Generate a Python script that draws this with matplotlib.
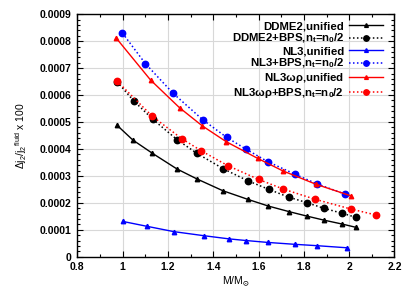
import matplotlib
matplotlib.use("Agg")
import matplotlib.pyplot as plt
from matplotlib.ticker import MultipleLocator, FormatStrFormatter, FuncFormatter

plt.rcParams['font.family'] = ['Liberation Sans', 'DejaVu Sans']
plt.rcParams['font.weight'] = 'bold'
plt.rcParams['mathtext.default'] = 'regular'

# DDME2, unified
ddme2_x = [0.975, 1.045, 1.131, 1.239, 1.327, 1.442, 1.552, 1.643, 1.736, 1.812, 1.887, 1.970, 2.030]
ddme2_y = [4.88, 4.33, 3.84, 3.26, 2.89, 2.45, 2.13, 1.88, 1.67, 1.51, 1.36, 1.21, 1.09]
# DDME2 + BPS
ddme2_bps_x = [0.975, 1.048, 1.133, 1.241, 1.327, 1.445, 1.552, 1.645, 1.733, 1.812, 1.887, 1.970, 2.030]
ddme2_bps_y = [6.50, 5.79, 5.10, 4.34, 3.84, 3.26, 2.82, 2.50, 2.21, 2.01, 1.80, 1.61, 1.46]
# NL3, unified
nl3_x = [1.000, 1.106, 1.226, 1.358, 1.471, 1.545, 1.640, 1.759, 1.856, 1.992]
nl3_y = [1.31, 1.13, 0.93, 0.78, 0.66, 0.60, 0.53, 0.46, 0.41, 0.33]
# NL3 + BPS
nl3_bps_x = [0.999, 1.100, 1.222, 1.354, 1.459, 1.545, 1.640, 1.761, 1.856, 1.982]
nl3_bps_y = [8.30, 7.17, 6.07, 5.08, 4.43, 3.99, 3.53, 3.06, 2.71, 2.32]
# NL3wr, unified
nl3wr_x = [0.972, 1.123, 1.251, 1.351, 1.457, 1.596, 1.706, 1.853, 2.007]
nl3wr_y = [8.11, 6.56, 5.53, 4.86, 4.27, 3.65, 3.19, 2.69, 2.26]
# NL3wr + BPS
nl3wr_bps_x = [0.975, 1.131, 1.261, 1.347, 1.464, 1.600, 1.709, 1.850, 2.007, 2.118]
nl3wr_bps_y = [6.52, 5.21, 4.38, 3.93, 3.38, 2.87, 2.51, 2.13, 1.77, 1.55]

labels = [
    'DDME2,unified',
    'DDME2+BPS,n$_t$=n$_0$/2',
    'NL3,unified',
    'NL3+BPS,n$_t$=n$_0$/2',
    r'NL3$\omega\rho$,unified',
    r'NL3$\omega\rho$+BPS,n$_t$=n$_0$/2',
]

scale = 1e-4

fig = plt.figure(figsize=(4.15, 2.97), dpi=100)
ax = fig.add_axes([0.1865, 0.1357, 0.7641, 0.8162])

tri = dict(marker='^', markersize=3.2, lw=1.0)
dot = dict(marker='o', markersize=4.6, lw=1.1, ls=(0, (1, 1.6)))

ax.plot(ddme2_x, [v * scale for v in ddme2_y], color='black', label=labels[0], **tri)
ax.plot(ddme2_bps_x, [v * scale for v in ddme2_bps_y], color='black', label=labels[1], **dot)
ax.plot(nl3_x, [v * scale for v in nl3_y], color='#0000ff', label=labels[2], **tri)
ax.plot(nl3_bps_x, [v * scale for v in nl3_bps_y], color='#0000ff', label=labels[3], **dot)
ax.plot(nl3wr_x, [v * scale for v in nl3wr_y], color='#ff0000', label=labels[4], **tri)
ax.plot(nl3wr_bps_x, [v * scale for v in nl3wr_bps_y], color='#ff0000', label=labels[5], **dot)

ax.set_xlim(0.8, 2.2)
ax.set_ylim(0, 0.0009)
ax.xaxis.set_major_locator(MultipleLocator(0.2))
ax.xaxis.set_minor_locator(MultipleLocator(0.1))
ax.yaxis.set_major_locator(MultipleLocator(0.0001))
ax.yaxis.set_minor_locator(MultipleLocator(0.00002))
ax.xaxis.set_major_formatter(FormatStrFormatter('%g'))
ax.yaxis.set_major_formatter(FuncFormatter(lambda v, p: '0' if abs(v) < 1e-9 else '%.4f' % v))

ax.tick_params(which='both', direction='in', top=True, right=True, labelsize=7.5, width=0.8)
ax.tick_params(which='major', length=4, pad=4)
ax.tick_params(which='minor', length=2)
for s in ax.spines.values():
    s.set_linewidth(1.0)
ax.grid(True, which='major', color='#d8d8d8', lw=0.8)
ax.set_axisbelow(True)

ax.set_xlabel(r'M/M$_{\odot}$', fontsize=7.5, labelpad=1.5)
ax.set_ylabel(r'$\Delta$j$_2$/j$_2$$^{fluid}$ x 100', fontsize=7.5, labelpad=8)

leg = ax.legend(loc='upper right', markerfirst=False, frameon=False, fontsize=8.2,
                handlelength=3.0, handletextpad=0.4, labelspacing=0.06,
                borderaxespad=0.2, bbox_to_anchor=(0.985, 1.0), markerscale=0.85)

fig.savefig('out.png', dpi=100)
